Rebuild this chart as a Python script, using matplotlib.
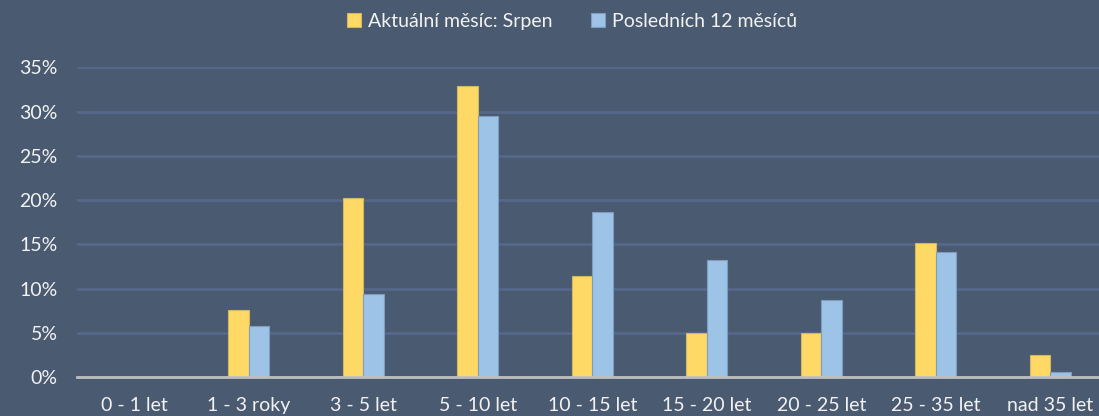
import matplotlib
matplotlib.use("Agg")
import matplotlib.pyplot as plt
import numpy as np

categories = ["0 - 1 let", "1 - 3 roky", "3 - 5 let", "5 - 10 let", "10 - 15 let",
              "15 - 20 let", "20 - 25 let", "25 - 35 let", "nad 35 let"]
current_month = [0.0, 7.6, 20.3, 32.9, 11.4, 5.0, 5.0, 15.2, 2.5]
last_12_months = [0.0, 5.8, 9.4, 29.5, 18.7, 13.2, 8.7, 14.2, 0.6]
series_labels = ["Aktuální měsíc: Srpen", "Posledních 12 měsíců"]
yticks = [0, 5, 10, 15, 20, 25, 30, 35]

BG = "#4A5A71"
GRID = "#55688A"
TEXT = "#F2F2F2"
YELLOW = "#FFD966"
BLUE = "#9DC3E6"

plt.rcParams['font.family'] = ['Lato', 'DejaVu Sans']

W, H = 1099, 416
fig = plt.figure(figsize=(W / 100, H / 100), dpi=100, facecolor=BG)
ax = fig.add_axes([77 / W, (H - 377.3) / H, (1107.5 - 77) / W, 310 / H])
ax.set_facecolor(BG)

x = np.arange(len(categories))
bw = 0.18
ax.bar(x - bw / 2, current_month, bw, color=YELLOW, edgecolor="#D4B660",
       linewidth=0.8, label=series_labels[0], zorder=3)
ax.bar(x + bw / 2, last_12_months, bw, color=BLUE, edgecolor="#7F9DBF",
       linewidth=0.8, label=series_labels[1], zorder=3)

ax.set_xlim(-0.5, len(categories) - 0.5)
ax.set_ylim(0, 35)
ax.set_yticks(yticks)
ax.set_yticklabels([f"{v}%" for v in yticks])
ax.set_xticks(x)
ax.set_xticklabels(categories)

ax.yaxis.grid(True, color=GRID, linewidth=2, zorder=0)
ax.set_axisbelow(True)
for s in ["top", "right", "left"]:
    ax.spines[s].set_visible(False)
ax.spines["bottom"].set_color("#BFBFBF")
ax.spines["bottom"].set_linewidth(2)
ax.spines["bottom"].set_zorder(4)

ax.tick_params(axis="y", length=0, pad=14, labelsize=14, labelcolor=TEXT)
ax.tick_params(axis="x", length=0, pad=14, labelsize=14, labelcolor=TEXT)

leg = fig.legend(loc="upper center", bbox_to_anchor=(572 / W, 1.0), ncol=2,
                 frameon=False, fontsize=14, labelcolor=TEXT,
                 handlelength=0.7, handleheight=0.7, handletextpad=0.35,
                 columnspacing=2.0, borderaxespad=0.25)

fig.savefig("out.png", dpi=100, facecolor=BG)
